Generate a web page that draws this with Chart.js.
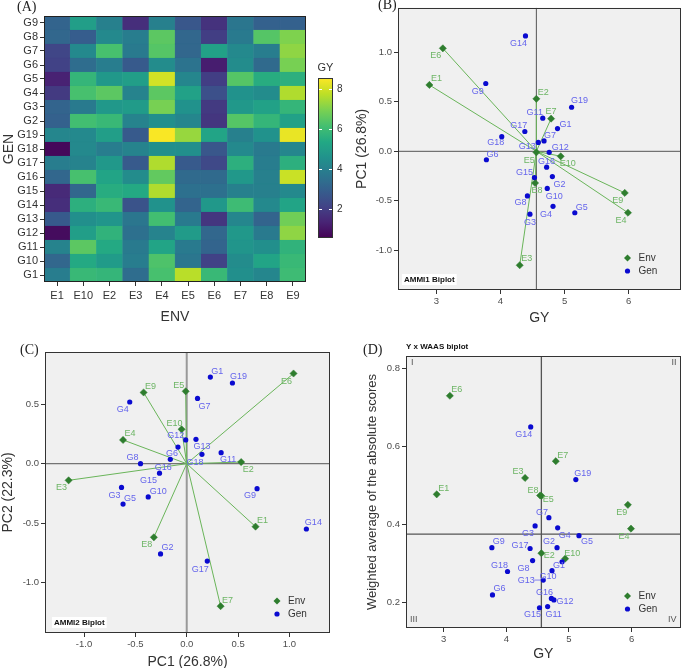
<!DOCTYPE html>
<html><head><meta charset="utf-8">
<script src="https://cdn.jsdelivr.net/npm/chart.js@4.4.1/dist/chart.umd.min.js"></script>
<style>
html,body{margin:0;padding:0;background:#fff;}
#wrap{position:relative;width:685px;height:668px;overflow:hidden;background:#fff;}
canvas{position:absolute;display:block;}
.plab{position:absolute;font-family:"Liberation Serif","DejaVu Serif",serif;font-size:14px;color:#222;line-height:16px;}
</style></head>
<body><div id="wrap">
<canvas id="cA" width="345" height="330" style="left:0;top:0"></canvas>
<canvas id="cB" width="340" height="330" style="left:345px;top:0"></canvas>
<canvas id="cC" width="345" height="338" style="left:0;top:330px"></canvas>
<canvas id="cD" width="340" height="338" style="left:345px;top:330px"></canvas>
<div class="plab" style="left:17px;top:-1px">(A)</div>
<div class="plab" style="left:378px;top:-3px">(B)</div>
<div class="plab" style="left:20px;top:342px">(C)</div>
<div class="plab" style="left:363px;top:342px">(D)</div>
</div>
<script>
// ---------- DATA ----------
const envs = ['E1','E10','E2','E3','E4','E5','E6','E7','E8','E9'];
const gens = ['G1','G10','G11','G12','G13','G14','G15','G16','G17','G18','G19','G2','G3','G4','G5','G6','G7','G8','G9'];
// GY per genotype (rows, order of gens) and environment (columns, order of envs)
const gyG1  = [3.9, 5.9, 5.8, 3.4, 6.2, 7.7, 5.9, 4.5, 4.2, 6.0];
const gyG10 = [3.2, 5.4, 4.9, 3.9, 6.3, 3.7, 2.1, 4.4, 5.2, 5.9];
const gyG11 = [4.1, 6.5, 5.4, 3.8, 5.2, 3.8, 3.1, 4.7, 4.5, 5.7];
const gyG12 = [0.8, 5.0, 5.7, 3.5, 4.1, 4.9, 3.2, 4.8, 3.8, 7.2];
const gyG13 = [2.8, 4.5, 4.7, 3.7, 6.1, 3.8, 1.8, 4.2, 3.1, 6.8];
const gyG14 = [1.6, 5.6, 5.9, 2.6, 4.6, 3.1, 4.8, 6.0, 4.3, 5.2];
const gyG15 = [1.5, 3.2, 5.5, 5.4, 7.6, 3.5, 3.5, 4.0, 4.0, 4.3];
const gyG16 = [3.2, 6.2, 5.2, 4.4, 6.6, 3.3, 3.3, 4.8, 4.0, 7.9];
const gyG17 = [3.9, 4.1, 4.8, 2.8, 7.6, 2.8, 2.3, 5.6, 3.9, 5.6];
const gyG18 = [0.7, 4.3, 3.9, 4.1, 4.5, 4.5, 2.7, 4.3, 3.8, 4.2];
const gyG19 = [4.2, 4.3, 5.0, 2.8, 8.5, 7.3, 5.2, 4.0, 4.6, 8.3];
const gyG2  = [3.0, 6.1, 5.9, 4.1, 4.5, 4.2, 1.8, 6.4, 5.8, 5.1];
const gyG3  = [3.1, 3.8, 4.8, 4.9, 6.9, 4.6, 1.9, 4.8, 5.1, 5.8];
const gyG4  = [1.9, 6.2, 6.5, 4.1, 6.5, 5.1, 2.5, 4.6, 4.4, 7.6];
const gyG5  = [1.3, 5.8, 4.8, 5.0, 8.0, 4.2, 2.0, 6.4, 5.5, 5.6];
const gyG6  = [2.1, 3.4, 3.9, 2.8, 4.4, 3.6, 1.2, 4.4, 3.3, 6.9];
const gyG7  = [2.2, 4.3, 6.2, 3.8, 6.4, 3.2, 5.1, 4.3, 3.9, 7.2];
const gyG8  = [3.2, 2.9, 4.3, 3.9, 6.5, 3.2, 2.0, 3.8, 6.4, 7.0];
const gyG9  = [3.1, 5.0, 4.0, 1.6, 4.0, 2.7, 1.7, 3.7, 3.0, 3.0];
const gyRows = [gyG1,gyG10,gyG11,gyG12,gyG13,gyG14,gyG15,gyG16,gyG17,gyG18,gyG19,gyG2,gyG3,gyG4,gyG5,gyG6,gyG7,gyG8,gyG9];
const gyColorMin = 0.55, gyColorMax = 8.55;
const colorbarTicks = [2,4,6,8];

// environment scores (order of envs)
const envGY   = [2.89, 4.94, 4.56, 4.30, 5.99, 4.56, 3.10, 4.79, 4.54, 5.94];
const envPC1  = [0.67, -0.05, 0.53, -1.15, -0.62, -0.01, 1.04, 0.33, -0.32, -0.42];
const envPC2  = [-0.53, 0.29, 0.014, -0.14, 0.20, 0.61, 0.76, -1.20, -0.62, 0.60];
const envWAAS = [0.477, 0.312, 0.326, 0.519, 0.389, 0.473, 0.730, 0.562, 0.474, 0.450];
// genotype scores (order of gens)
const genGY   = [4.89, 4.73, 4.66, 4.76, 4.59, 4.39, 4.53, 4.72, 4.38, 4.02, 5.11, 4.81, 4.46, 4.82, 5.16, 3.78, 4.68, 4.42, 3.77];
const genPC1  = [0.23, -0.375, 0.335, -0.01, 0.09, 1.165, -0.265, -0.16, 0.20, 0.148, 0.445, -0.255, -0.635, -0.555, -0.62, -0.085, 0.105, -0.45, 0.685];
const genPC2  = [0.73, -0.28, 0.093, 0.20, 0.205, -0.55, -0.08, 0.037, -0.82, 0.079, 0.68, -0.76, -0.20, 0.52, -0.34, 0.14, 0.55, 0.0, -0.21];
const genWAAS = [0.304, 0.281, 0.189, 0.206, 0.257, 0.650, 0.186, 0.210, 0.338, 0.279, 0.515, 0.340, 0.396, 0.391, 0.371, 0.219, 0.417, 0.307, 0.340];
const grandMeanGY = 4.56;
const meanWAAS = 0.375;

// tick labels
const gyTicks   = [3, 4, 5, 6];
const pc1TicksB = [1.0, 0.5, 0.0, -0.5, -1.0];
const pc1TicksC = [-1.0, -0.5, 0.0, 0.5, 1.0];
const pc2TicksC = [0.5, 0.0, -0.5, -1.0];
const waasTicks = [0.2, 0.4, 0.6, 0.8];

// ---------- STYLE ----------
const SANS = '"Liberation Sans", Arial, sans-serif';
const NARROW = '"Liberation Sans Narrow", "Liberation Sans", Arial, sans-serif';
const envPtColor = '#2e7d2e', envLblColor = '#6db565', vecColor = '#6ab55a';
const genPtColor = '#0a0ad0', genLblColor = '#6464ec';
// label offsets [dx,dy] in px (layout only)
const offB_gen = [[8,-4],[7,8],[-8,-6],[11,-5],[-11,4],[-7,8],[-10,-5],[0,-6],[-6,-6],[-6,6],[8,-7],[7,8],[0,8],[-7,8],[7,-5],[6,-5],[6,-5],[-7,7],[-8,8]];
const offB_env = [[7,-6],[7,7],[7,-6],[7,-7],[-7,8],[-7,8],[-7,7],[0,-7],[2,7],[-7,8]];
const offC_gen = [[7,-6],[10,-5],[7,7],[-10,-4],[6,7],[7,-6],[-11,7],[-7,8],[-7,8],[-7,8],[6,-6],[7,-6],[-7,8],[-7,8],[7,-6],[-6,6],[7,8],[-8,-6],[-7,7]];
const offC_env = [[7,-6],[-7,-6],[7,7],[-7,7],[7,-6],[-7,-6],[-7,8],[7,-6],[-7,7],[7,-6]];
const offD_gen = [[-3,4],[-4,6],[6,8],[11,2],[-17,0],[-7,8],[-7,7],[-7,-6],[-10,-3],[-8,-6],[7,-6],[-8,-6],[-7,8],[7,8],[8,6],[7,-6],[-7,-5],[-9,8],[7,-6]];
const offD_env = [[7,-6],[7,-5],[8,2],[-7,-6],[-7,8],[7,4],[7,-6],[7,-6],[-7,-5],[-6,8]];

const VIR = ['#440154','#482475','#414487','#355f8d','#2a788e','#21918c','#22a884','#44bf70','#7ad151','#bddf26','#fde725'];
function hex2rgb(h){return [parseInt(h.substr(1,2),16),parseInt(h.substr(3,2),16),parseInt(h.substr(5,2),16)];}
function viridis(t){
  t = Math.max(0, Math.min(1, t));
  const n = VIR.length - 1;
  const i = Math.min(n - 1, Math.floor(t * n));
  const f = t * n - i;
  const a = hex2rgb(VIR[i]), b = hex2rgb(VIR[i+1]);
  return 'rgb(' + a.map((c,k)=>Math.round(c + (b[k]-c)*f)).join(',') + ')';
}
function gyColor(v){ return viridis((v - gyColorMin)/(gyColorMax - gyColorMin)); }

// ---------- PLUGINS ----------
const framePlugin = {
  id: 'frame',
  beforeDraw(chart, args, o){
    if (!o || !o.bg) return;
    const a = chart.chartArea, ctx = chart.ctx;
    ctx.save(); ctx.fillStyle = o.bg; ctx.fillRect(a.left, a.top, a.right-a.left, a.bottom-a.top); ctx.restore();
  },
  afterDraw(chart, args, o){
    const a = chart.chartArea, ctx = chart.ctx;
    ctx.save(); ctx.strokeStyle = (o && o.color) || '#333'; ctx.lineWidth = 1;
    const l = Math.round(a.left)+0.5, t = Math.round(a.top)+0.5, r = Math.round(a.right)-0.5, b = Math.round(a.bottom)-0.5;
    ctx.strokeRect(l, t, r-l, b-t); ctx.restore();
  }
};
const pointLabelPlugin = {
  id: 'pointLabels',
  afterDatasetsDraw(chart){
    const ctx = chart.ctx;
    chart.data.datasets.forEach((ds, di) => {
      if (!ds.pointLabels) return;
      const meta = chart.getDatasetMeta(di);
      ctx.save();
      ctx.font = '9px ' + SANS; ctx.fillStyle = ds.labelColor; ctx.strokeStyle = ds.labelColor;
      ctx.textAlign = 'center'; ctx.textBaseline = 'middle';
      meta.data.forEach((el, i) => {
        const o = ds.labelOffsets[i];
        ctx.fillText(ds.pointLabels[i], el.x + o[0], el.y + o[1]);
        if (ds.leaders && ds.leaders.includes(i)) {
          ctx.lineWidth = 0.8; ctx.beginPath(); ctx.moveTo(el.x - 9, el.y); ctx.lineTo(el.x - 3, el.y); ctx.stroke();
        }
      });
      ctx.restore();
    });
  }
};
const insetLegendPlugin = {
  id: 'insetLegend',
  afterDatasetsDraw(chart, args, o){
    if (!o || !o.show) return;
    const a = chart.chartArea, ctx = chart.ctx;
    const x = a.right - 53, y1 = a.bottom - 32, y2 = a.bottom - 19;
    ctx.save();
    ctx.fillStyle = envPtColor; ctx.beginPath();
    ctx.moveTo(x, y1-3.5); ctx.lineTo(x+3.5, y1); ctx.lineTo(x, y1+3.5); ctx.lineTo(x-3.5, y1); ctx.closePath(); ctx.fill();
    ctx.fillStyle = genPtColor; ctx.beginPath(); ctx.arc(x, y2, 2.6, 0, Math.PI*2); ctx.fill();
    ctx.fillStyle = '#333'; ctx.font = '10px ' + SANS; ctx.textBaseline = 'middle'; ctx.textAlign = 'left';
    ctx.fillText('Env', x + 11, y1); ctx.fillText('Gen', x + 11, y2);
    ctx.restore();
  }
};
const notesPlugin = {
  id: 'notes',
  afterDraw(chart, args, o){
    if (!o) return;
    const a = chart.chartArea, ctx = chart.ctx;
    ctx.save();
    if (o.box) {
      ctx.font = 'bold 8px ' + SANS;
      const w = ctx.measureText(o.box).width + 4;
      ctx.fillStyle = '#fff'; ctx.fillRect(a.left + o.boxDx, a.bottom - 16, w, 11);
      ctx.fillStyle = '#111'; ctx.textBaseline = 'middle'; ctx.textAlign = 'left';
      ctx.fillText(o.box, a.left + o.boxDx + 2, a.bottom - 10.5);
    }
    if (o.title) {
      ctx.font = 'bold 8px ' + SANS; ctx.fillStyle = '#111'; ctx.textBaseline = 'middle'; ctx.textAlign = 'left';
      ctx.fillText(o.title, a.left, a.top - 9);
    }
    if (o.quadrants) {
      ctx.font = '9px ' + SANS; ctx.fillStyle = '#555'; ctx.textBaseline = 'middle';
      ctx.textAlign = 'left';
      ctx.fillText('I', a.left + 5, a.top + 7); ctx.fillText('III', a.left + 4, a.bottom - 8);
      ctx.textAlign = 'right';
      ctx.fillText('II', a.right - 4, a.top + 7); ctx.fillText('IV', a.right - 4, a.bottom - 8);
    }
    ctx.restore();
  }
};
const colorbarPlugin = {
  id: 'colorbar',
  afterDraw(chart){
    const a = chart.chartArea, ctx = chart.ctx;
    const x = Math.round(a.right) + 12, w = 15, top = Math.round(a.top) + 62, h = 160;
    ctx.save();
    const g = ctx.createLinearGradient(0, top + h, 0, top);
    for (let k = 0; k <= 20; k++) g.addColorStop(k/20, viridis(k/20));
    ctx.fillStyle = g; ctx.fillRect(x, top, w, h);
    ctx.strokeStyle = '#333'; ctx.lineWidth = 1; ctx.strokeRect(x + 0.5, top + 0.5, w - 1, h - 1);
    ctx.strokeStyle = '#fff'; ctx.fillStyle = '#333'; ctx.font = '10px ' + NARROW;
    ctx.textBaseline = 'middle'; ctx.textAlign = 'left';
    colorbarTicks.forEach(v => {
      const y = Math.round(top + h - (v - gyColorMin)/(gyColorMax - gyColorMin)*h) + 0.5;
      ctx.beginPath(); ctx.moveTo(x + 1, y); ctx.lineTo(x + 4, y); ctx.moveTo(x + w - 4, y); ctx.lineTo(x + w - 1, y); ctx.stroke();
      ctx.fillText(String(v), x + w + 4, y);
    });
    ctx.textAlign = 'center'; ctx.font = '11px ' + NARROW; ctx.fillText('GY', x + w/2, top - 10);
    ctx.restore();
  }
};

// ---------- PANEL A : heatmap ----------
new Chart(document.getElementById('cA'), {
  type: 'bar',
  data: {
    labels: envs,
    datasets: gens.map((g, gi) => ({
      label: g,
      data: envs.map(() => 1),
      backgroundColor: gyRows[gi].map(gyColor),
      borderColor: gyRows[gi].map(gyColor),
      borderWidth: 0.6, borderSkipped: false,
      barPercentage: 1, categoryPercentage: 1
    }))
  },
  options: {
    responsive: false, animation: false, events: [],
    layout: { padding: { left: 0, top: 16, right: 39, bottom: 0 } },
    plugins: { legend: { display: false }, tooltip: { enabled: false }, frame: { color: '#222' } },
    scales: {
      x: {
        stacked: true,
        grid: { display: true, drawOnChartArea: false, offset: false, tickLength: 4, color: '#333' },
        border: { display: false },
        ticks: { font: { family: NARROW, size: 11 }, color: '#333', padding: 3 },
        title: { display: true, text: 'ENV', font: { family: SANS, size: 14 }, color: '#333', padding: { top: 0, bottom: 4 } },
        afterFit(s) { s.height = 48; }
      },
      y: {
        stacked: true, min: 0, max: gens.length,
        afterBuildTicks(s) { s.ticks = gens.map((g, i) => ({ value: i + 0.5 })); },
        ticks: { autoSkip: false, callback: (v, i) => gens[i], font: { family: NARROW, size: 11 }, color: '#333', padding: 2 },
        grid: { display: true, drawOnChartArea: false, tickLength: 4, color: '#333' },
        border: { display: false },
        title: { display: true, text: 'GEN', font: { family: SANS, size: 14 }, color: '#333', padding: { top: 1, bottom: 0 } },
        afterFit(s) { s.width = 44; }
      }
    }
  },
  plugins: [framePlugin, colorbarPlugin]
});

// ---------- scatter helper ----------
const tickFont = { family: SANS, size: 9.5 };
function refLine(pts, color, width){ return { data: pts, showLine: true, pointRadius: 0, borderColor: color, borderWidth: width, fill: false }; }
function vectors(cx, cy, xs, ys){
  return xs.map((x, i) => ({ data: [{x: cx, y: cy}, {x: x, y: ys[i]}], showLine: true, pointRadius: 0, borderColor: vecColor, borderWidth: 1, fill: false }));
}
function envPoints(xs, ys, offs){
  return { data: xs.map((x, i) => ({x: x, y: ys[i]})), pointStyle: 'rectRot', pointRadius: 3.6, backgroundColor: envPtColor, borderColor: envPtColor, borderWidth: 0.5,
    pointLabels: envs, labelOffsets: offs, labelColor: envLblColor };
}
function genPoints(xs, ys, offs, leaders){
  return { data: xs.map((x, i) => ({x: x, y: ys[i]})), pointStyle: 'circle', pointRadius: 2.6, backgroundColor: genPtColor, borderColor: genPtColor, borderWidth: 0,
    pointLabels: gens, labelOffsets: offs, labelColor: genLblColor, leaders: leaders || [] };
}
function scatterChart(id, c){
  return new Chart(document.getElementById(id), {
    type: 'scatter',
    data: { datasets: c.datasets },
    options: {
      responsive: false, animation: false, events: [],
      layout: { padding: c.padding },
      plugins: { legend: { display: false }, tooltip: { enabled: false }, frame: { bg: '#f0f0f0', color: '#333' }, insetLegend: { show: true }, notes: c.notes },
      scales: {
        x: {
          type: 'linear', min: c.xMin, max: c.xMax,
          afterBuildTicks(s) { s.ticks = c.xTicks.map(v => ({ value: v })); },
          ticks: { callback: c.xFmt, font: tickFont, color: '#4d4d4d', padding: 2 },
          grid: { display: true, drawOnChartArea: false, tickLength: 4, color: '#333' },
          border: { display: false },
          title: { display: true, text: c.xTitle, font: { family: SANS, size: 14 }, color: '#333', padding: { top: 0, bottom: c.xTitlePad } },
          afterFit(s) { s.height = c.xH; }
        },
        y: {
          type: 'linear', min: c.yMin, max: c.yMax,
          afterBuildTicks(s) { s.ticks = c.yTicks.map(v => ({ value: v })); },
          ticks: { callback: c.yFmt, font: tickFont, color: '#4d4d4d', padding: 2 },
          grid: { display: true, drawOnChartArea: false, tickLength: 4, color: '#333' },
          border: { display: false },
          title: { display: true, text: c.yTitle, font: { family: SANS, size: c.yTitleSize || 14 }, color: '#333', padding: { top: c.yTitlePad, bottom: 0 } },
          afterFit(s) { s.width = c.yW; }
        }
      }
    },
    plugins: [framePlugin, pointLabelPlugin, insetLegendPlugin, notesPlugin]
  });
}
const f1 = v => v.toFixed(1);
const f0 = v => String(v);

// ---------- PANEL B : AMMI1 ----------
const bX = [2.4, 6.81], bY = [-1.40, 1.45];
scatterChart('cB', {
  padding: { left: 0, top: 5, right: 1, bottom: 0 },
  xMin: bX[0], xMax: bX[1], yMin: bY[0], yMax: bY[1],
  xTicks: gyTicks, yTicks: pc1TicksB, xFmt: f0, yFmt: f1,
  xTitle: 'GY', yTitle: 'PC1 (26.8%)', xTitlePad: 3, yTitlePad: 9, xH: 40, yW: 53,
  notes: { box: 'AMMI1 Biplot', boxDx: 4 },
  datasets: [
    genPoints(genGY, genPC1, offB_gen),
    envPoints(envGY, envPC1, offB_env),
    ...vectors(grandMeanGY, 0, envGY, envPC1),
    refLine([{x: bX[0], y: 0}, {x: bX[1], y: 0}], '#555', 1),
    refLine([{x: grandMeanGY, y: bY[0]}, {x: grandMeanGY, y: bY[1]}], '#555', 1)
  ]
});

// ---------- PANEL C : AMMI2 ----------
const cX = [-1.38, 1.395], cY = [-1.426, 0.941];
scatterChart('cC', {
  padding: { left: 0, top: 22, right: 15, bottom: 0 },
  xMin: cX[0], xMax: cX[1], yMin: cY[0], yMax: cY[1],
  xTicks: pc1TicksC, yTicks: pc2TicksC, xFmt: f1, yFmt: f1,
  xTitle: 'PC1 (26.8%)', yTitle: 'PC2 (22.3%)', xTitlePad: -3, yTitlePad: 0, xH: 35, yW: 45,
  notes: { box: 'AMMI2 Biplot', boxDx: 7 },
  datasets: [
    genPoints(genPC1, genPC2, offC_gen),
    envPoints(envPC1, envPC2, offC_env),
    ...vectors(0, 0, envPC1, envPC2),
    refLine([{x: cX[0], y: 0}, {x: cX[1], y: 0}], '#555', 1),
    refLine([{x: 0, y: cY[0]}, {x: 0, y: cY[1]}], '#999', 2)
  ]
});

// ---------- PANEL D : Y x WAAS ----------
const dX = [2.40, 6.78], dY = [0.134, 0.832];
scatterChart('cD', {
  padding: { left: 0, top: 26, right: 2, bottom: 0 },
  xMin: dX[0], xMax: dX[1], yMin: dY[0], yMax: dY[1],
  xTicks: gyTicks, yTicks: waasTicks, xFmt: f0, yFmt: f1,
  xTitle: 'GY', yTitle: 'Weighted average of the absolute scores', yTitleSize: 13, xTitlePad: 5, yTitlePad: 20, xH: 40, yW: 61,
  notes: { title: 'Y x WAAS biplot', quadrants: true },
  datasets: [
    genPoints(genGY, genWAAS, offD_gen, [4]),
    envPoints(envGY, envWAAS, offD_env),
    refLine([{x: dX[0], y: meanWAAS}, {x: dX[1], y: meanWAAS}], '#555', 1.3),
    refLine([{x: grandMeanGY, y: dY[0]}, {x: grandMeanGY, y: dY[1]}], '#555', 1.3)
  ]
});
</script>
</body></html>
